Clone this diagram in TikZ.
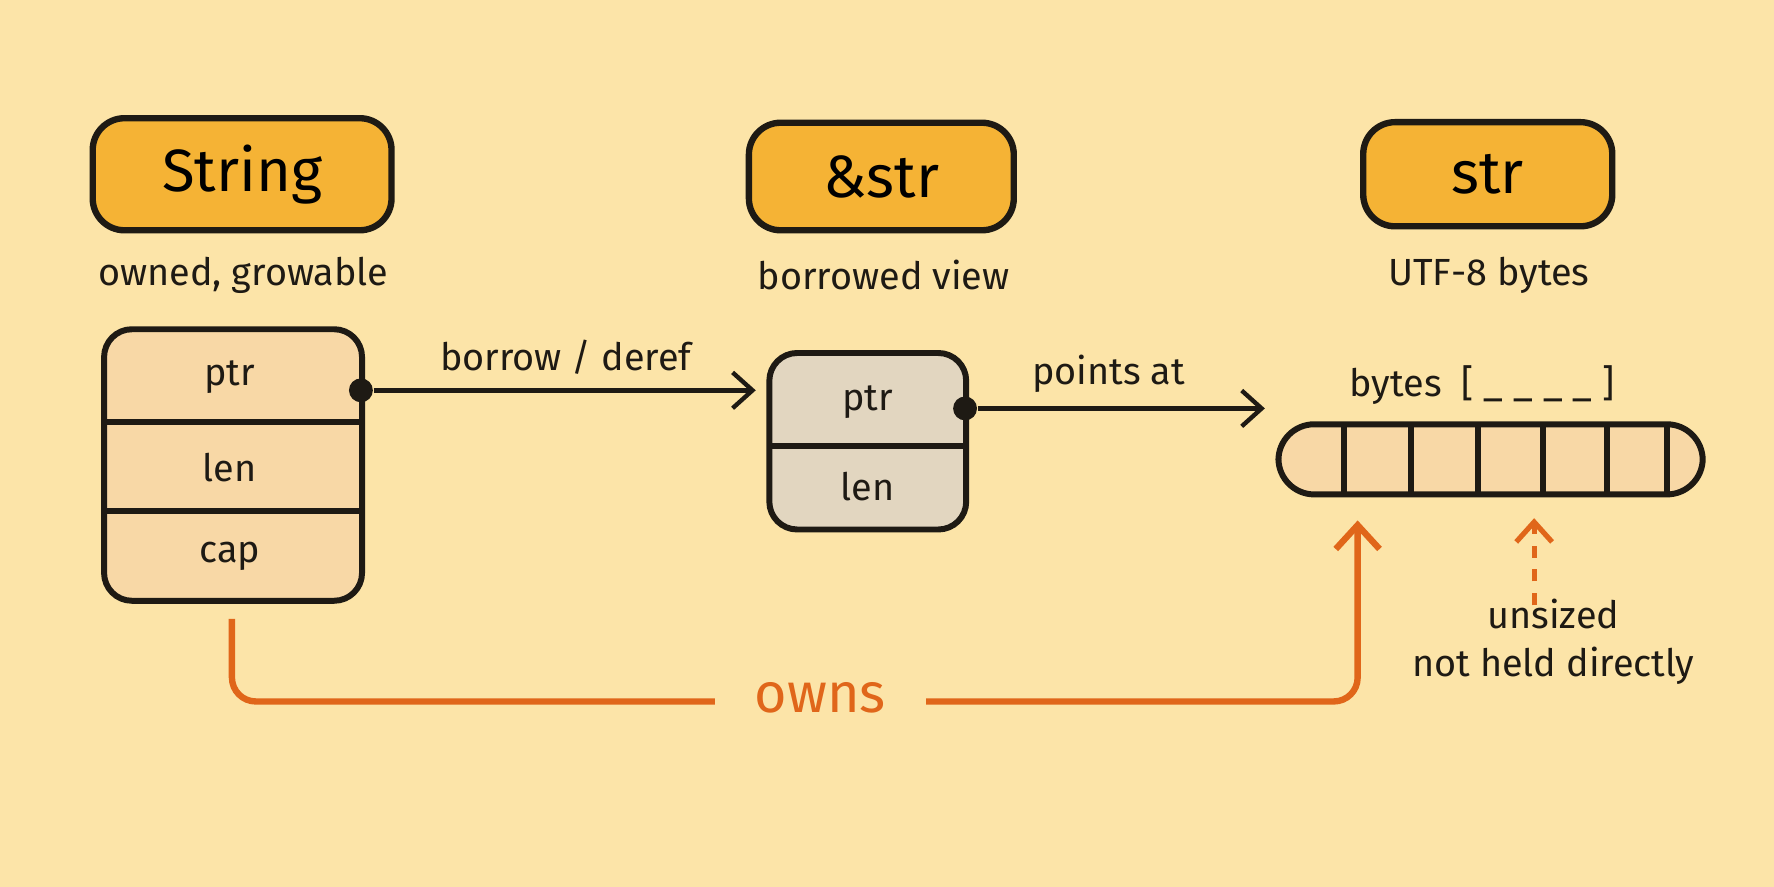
\documentclass[tikz,border=0pt]{standalone}
\usepackage{fontspec}
\setmainfont{Fira Sans}
\usetikzlibrary{arrows.meta}
\definecolor{bg}{HTML}{FCE4A8}
\definecolor{title}{HTML}{F5B335}
\definecolor{cell}{HTML}{F8D8A6}
\definecolor{grey}{HTML}{E2D6C0}
\definecolor{ink}{HTML}{1E1A14}
\definecolor{own}{HTML}{E0661A}
\tikzset{
 titlebox/.style={draw=ink,line width=1.6pt,fill=title,rounded corners=8pt,font=\fontsize{15}{18}\selectfont},
 lbl/.style={font=\fontsize{9.5}{12}\selectfont,text=ink},
 frame/.style={draw=ink,line width=1.5pt,rounded corners=7pt},
 arr/.style={draw=ink,line width=1.1pt,-{Straight Barb[length=5pt,width=9pt]}},
 dotc/.style={circle,fill=ink,inner sep=0pt,minimum size=6pt}
}
\begin{document}
\begin{tikzpicture}[x=0.01cm,y=-0.01cm]
\fill[bg] (0,0) rectangle (1568,784);
\useasboundingbox (0,0) rectangle (1568,784);
% titles
\node[titlebox,minimum width=2.64cm,minimum height=0.99cm] (tString) at (214,154) {String};
\node[lbl] (dString) at (215,243) {owned, growable};
\node[titlebox,minimum width=2.34cm,minimum height=0.95cm] (tRef) at (779,156) {\&str};
\node[lbl] (dRef) at (781,243) {borrowed view};
\node[titlebox,minimum width=2.2cm,minimum height=0.92cm] (tStr) at (1315,154) {str};
\node[lbl] (dStr) at (1316,243) {UTF-8 bytes};
% String struct
\fill[cell,rounded corners=7pt] (92,291) rectangle (320,531);
\draw[ink,line width=1.5pt] (92,373) -- (320,373) (92,452) -- (320,452);
\draw[frame] (92,291) rectangle (320,531);
\node[lbl] (sptr) at (203,333) {ptr};
\node[lbl] (slen) at (203,413) {len};
\node[lbl] (scap) at (203,492) {cap};
\node[dotc] (d1) at (319,345) {};
\coordinate (a1) at (668,345);
\draw[arr] (d1) -- (a1);
\node[lbl] (l1) at (500,316) {borrow / deref};
% &str struct
\fill[grey,rounded corners=7pt] (680,312) rectangle (854,468);
\draw[ink,line width=1.5pt] (680,394) -- (854,394);
\draw[frame] (680,312) rectangle (854,468);
\node[lbl] (rptr) at (767,355) {ptr};
\node[lbl] (rlen) at (767,430) {len};
\node[dotc] (d2) at (853,361) {};
\coordinate (a2) at (1118,361);
\draw[arr] (d2) -- (a2);
\node[lbl] (l2) at (980,330) {points at};
% bytes
\node[lbl] (bl) at (1310,340) {bytes\ \ [ \_ \_ \_ \_ ]};
\fill[cell,rounded corners=9pt] (1130,375) rectangle (1505,437);
\foreach \x in {1188,1247,1306,1364,1420,1473} \draw[ink,line width=1.5pt] (\x,375) -- (\x,437);
\draw[frame,rounded corners=9pt] (1130,375) rectangle (1505,437);
% owns
\coordinate (o1) at (205,547);
\coordinate (o2) at (1200,460);
\draw[own,line width=1.6pt,rounded corners=6pt,-{Straight Barb[length=6pt,width=11pt]}] (o1) -- (205,620) -- (1200,620) -- (o2);
\node[fill=bg,text=own,font=\fontsize{14}{16}\selectfont,inner xsep=10pt] (owns) at (725,617) {owns};
% unsized
\coordinate (u1) at (1356,535);
\coordinate (u2) at (1356,458);
\draw[own,line width=1.3pt,dashed,-{Straight Barb[length=5pt,width=9pt]}] (u1) -- (u2);
\node[lbl,align=center] (ul) at (1373,567) {unsized\\not held directly};
\end{tikzpicture}
\end{document}
